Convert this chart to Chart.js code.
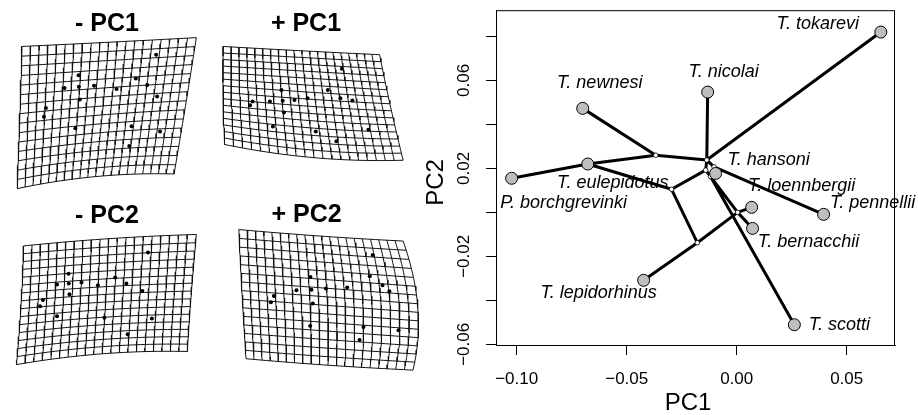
<!DOCTYPE html>
<html><head><meta charset="utf-8">
<script src="https://cdn.jsdelivr.net/npm/chart.js@4.4.1/dist/chart.umd.min.js"></script>
<style>
html,body{margin:0;padding:0;background:#fff;width:918px;height:415px;overflow:hidden}
#g{position:absolute;left:0;top:0}
#m{position:absolute;left:418px;top:0}
</style></head><body>
<canvas id="g" width="430" height="415"></canvas>
<canvas id="m" width="500" height="415"></canvas>
<script>
// ---------- phylomorphospace data ----------
const species = ['T. tokarevi','T. nicolai','T. newnesi','T. eulepidotus','P. borchgrevinki','T. hansoni','T. loennbergii','T. bernacchii','T. pennellii','T. lepidorhinus','T. scotti'];
const pc1 = [0.0655,-0.0132,-0.0700,-0.0677,-0.1023,-0.0096,0.0068,0.0072,0.0395,-0.0423,0.0262];
const pc2 = [0.0820,0.0547,0.0473,0.0220,0.0155,0.0177,0.0023,-0.0073,-0.0009,-0.0309,-0.0511];
const nodeNames = ['A','B','P','Q','H','C','D','E'];
const nodePC1 = [-0.0368,-0.0136,-0.0103,-0.0141,-0.0119,-0.0296,-0.0179,0.0004];
const nodePC2 = [0.0260,0.0238,0.0207,0.0192,0.0163,0.0105,-0.0138,0.0000];
const edgeFrom = ['P. borchgrevinki','T. eulepidotus','A','A','B','B','B','P','P','T. eulepidotus','C','Q','Q','H','H','Q','E','E','D','C','D'];
const edgeTo   = ['T. eulepidotus','A','T. newnesi','B','T. nicolai','T. tokarevi','P','T. pennellii','T. hansoni','C','Q','B','H','T. scotti','T. hansoni','E','T. bernacchii','T. loennbergii','E','D','T. lepidorhinus'];
const xTicks = [-0.10,-0.05,0.00,0.05];
const xTickLabels = ['\u22120.10','\u22120.05','0.00','0.05'];
const yTicks = [-0.06,-0.04,-0.02,0.00,0.02,0.04,0.06,0.08];
const yTickLabels = ['\u22120.06','','\u22120.02','','0.02','','0.06',''];
const xTitle = 'PC1', yTitle = 'PC2';

// ---------- deformation grid data (panel units) ----------
const gridTitles = ['- PC1','+ PC1','- PC2','+ PC2'];
// 3x3 control nets (row-major: top, middle, bottom)
const netMinusPC1 = [[18.3,43.3],[106.7,39],[196,34.3],[16,116.7],[100.5,108.5],[185,103.3],[13.3,188.3],[93.3,176],[173.3,173.3]];
const netPlusPC1  = [[223.3,43.3],[303.3,47.7],[382.7,51.7],[223.3,93.3],[309,100.5],[394,105.3],[225,143.3],[316,156.7],[406.7,159.3]];
const netMinusPC2 = [[20,246.7],[106.7,239.3],[196,235],[17.3,306.7],[103.7,300],[190.7,296.7],[12.7,367.7],[100,356.7],[186.7,354.3]];
const netPlusPC2  = [[239.3,230],[323.3,236.7],[406.7,241.7],[242.7,296.7],[329.5,303],[421.7,310],[246.7,361.7],[330,368.3],[416.7,373.3]];
const lmMinusPC1 = [[155,51.7],[76,72.7],[134.3,76],[61.7,85.7],[76.3,84.3],[91.7,83.3],[114.7,86.7],[146,82.7],[156,94.3],[77.3,97.3],[42.7,106],[40.7,115],[72.7,126.7],[130,124.7],[159,130],[127.7,144.7]];
const lmPlusPC1  = [[344.3,66],[282.7,87.7],[330,87.7],[253.3,99.3],[271,99.3],[284,98.7],[296,98],[309.3,96],[342.7,96],[355,98.3],[250.7,103.3],[285.3,110.7],[274,125],[317.7,130],[371.3,128.3],[338.7,140]];
const lmMinusPC2 = [[146.7,253.3],[65.7,275],[113.3,279],[54,286],[66,285],[79,284],[95.7,286.7],[124.7,285],[141,292.7],[66.7,296],[39.7,301.7],[36.7,308.3],[54,318.3],[102.3,320],[150.7,320.7],[126,336.7]];
const lmPlusPC2  = [[375.7,256],[312.3,278.3],[372.7,277.7],[298,292],[313.3,291.3],[328,290],[349.7,289],[385.7,286.7],[392.7,293],[275,297.7],[272,304],[314.7,305.3],[312,328.3],[366.3,329.3],[402,332.7],[362.3,342.7]];
const gridCols = 20, gridRows = 15;

// ---------- grid chart ----------
function lag(t){return [2*(t-0.5)*(t-1), -4*t*(t-1), 2*t*(t-0.5)];}
function warp(net,u,v){
  const a=lag(u), b=lag(v); let x=0,y=0;
  for(let r=0;r<3;r++)for(let c=0;c<3;c++){const w=b[r]*a[c]; x+=w*net[r*3+c][0]; y+=w*net[r*3+c][1];}
  return {x,y};
}
function gridLines(net){
  const pts=[];
  for(let i=0;i<=gridCols;i++){
    for(let k=0;k<=30;k++) pts.push(warp(net,i/gridCols,k/30));
    pts.push({x:null,y:null});
  }
  for(let j=0;j<=gridRows;j++){
    for(let k=0;k<=40;k++) pts.push(warp(net,k/40,j/gridRows));
    pts.push({x:null,y:null});
  }
  return pts;
}
const nets=[netMinusPC1,netPlusPC1,netMinusPC2,netPlusPC2];
const lms=[lmMinusPC1,lmPlusPC1,lmMinusPC2,lmPlusPC2];
const titlePos=[[105,20],[307.7,20],[105,216.5],[308.3,215]];
const gDatasets=[];
lms.forEach(l=>gDatasets.push({data:l.map(p=>({x:p[0],y:p[1]})),pointRadius:2,pointBackgroundColor:'#000',pointBorderWidth:0,showLine:false,order:0}));
nets.forEach(n=>gDatasets.push({data:gridLines(n),showLine:true,borderColor:'#111',borderWidth:1,pointRadius:0,spanGaps:false,tension:0,order:1}));
const gridTitlePlugin={id:'gt',afterDraw(c){
  const ctx=c.ctx,xs=c.scales.x,ys=c.scales.y;ctx.save();
  ctx.font='bold 25px "Liberation Sans", Arial, sans-serif';ctx.fillStyle='#000';ctx.textAlign='center';ctx.textBaseline='middle';
  gridTitles.forEach((t,i)=>ctx.fillText(t,xs.getPixelForValue(titlePos[i][0]),ys.getPixelForValue(titlePos[i][1])));
  ctx.restore();}};
new Chart(document.getElementById('g'),{type:'scatter',data:{datasets:gDatasets},
  options:{responsive:false,animation:false,events:[],layout:{padding:0},
    plugins:{legend:{display:false},tooltip:{enabled:false}},
    scales:{x:{type:'linear',min:0,max:430,display:false},y:{type:'linear',min:0,max:415,reverse:true,display:false}}},
  plugins:[gridTitlePlugin]});

// ---------- main chart ----------
const allNames=species.concat(nodeNames), allX=pc1.concat(nodePC1), allY=pc2.concat(nodePC2);
function pt(n){const i=allNames.indexOf(n);return {x:allX[i],y:allY[i]};}
const edgePts=[];
edgeFrom.forEach((f,i)=>{edgePts.push(pt(f),pt(edgeTo[i]),{x:null,y:null});});
const labelOffsets=[[-63,-8],[16,-20],[17,-25],[25,19],[52,25],[53,-13],[50,-21],[56,14],[49,-11],[-45,13],[45,0]];
const LF='"Liberation Sans", Arial, Helvetica, sans-serif';
const textPlugin={id:'txt',afterDraw(c){
  const ctx=c.ctx,xs=c.scales.x,ys=c.scales.y,a=c.chartArea;ctx.save();
  ctx.strokeStyle='#000';ctx.lineWidth=1;ctx.strokeRect(a.left+0.5,a.top+0.5,a.right-a.left-1,a.bottom-a.top);
  ctx.fillStyle='#000';ctx.textAlign='center';ctx.textBaseline='middle';
  ctx.font='italic 18px '+LF;
  species.forEach((s,i)=>ctx.fillText(s,xs.getPixelForValue(pc1[i])+labelOffsets[i][0],ys.getPixelForValue(pc2[i])+labelOffsets[i][1]));
  ctx.font='17px '+LF;
  xTicks.forEach((v,i)=>ctx.fillText(xTickLabels[i],xs.getPixelForValue(v),379));
  yTicks.forEach((v,i)=>{if(!yTickLabels[i])return;ctx.save();ctx.translate(46,ys.getPixelForValue(v));ctx.rotate(-Math.PI/2);ctx.fillText(yTickLabels[i],0,0);ctx.restore();});
  ctx.font='24px '+LF;
  ctx.fillText(xTitle,270,403);
  ctx.save();ctx.translate(18,182.5);ctx.rotate(-Math.PI/2);ctx.fillText(yTitle,0,0);ctx.restore();
  ctx.restore();}};
new Chart(document.getElementById('m'),{type:'scatter',
  data:{datasets:[
    {data:species.map((s,i)=>({x:pc1[i],y:pc2[i]})),pointRadius:6,pointBackgroundColor:'#bebebe',pointBorderColor:'#000',pointBorderWidth:1,showLine:false,order:0},
    {data:nodeNames.map((s,i)=>({x:nodePC1[i],y:nodePC2[i]})),pointRadius:2.3,pointBackgroundColor:'#fff',pointBorderColor:'#000',pointBorderWidth:0.8,showLine:false,order:1},
    {data:edgePts,showLine:true,borderColor:'#000',borderWidth:3,pointRadius:0,spanGaps:false,tension:0,order:2}
  ]},
  options:{responsive:false,animation:false,events:[],
    layout:{padding:{left:0,right:23,top:10,bottom:0}},
    plugins:{legend:{display:false},tooltip:{enabled:false}},
    scales:{
      x:{type:'linear',min:-0.10941,max:0.07195,afterBuildTicks:s=>{s.ticks=xTicks.map(v=>({value:v}));},afterFit:s=>{s.height=70;},
         grid:{display:true,drawOnChartArea:false,drawTicks:true,tickLength:10,tickColor:'#000',tickWidth:1,lineWidth:1},
         border:{display:true,color:'#000',width:1},ticks:{color:'rgba(0,0,0,0)'}},
      y:{type:'linear',min:-0.06032,max:0.09195,afterBuildTicks:s=>{s.ticks=yTicks.map(v=>({value:v}));},afterFit:s=>{s.width=78;},
         grid:{display:true,drawOnChartArea:false,drawTicks:true,tickLength:10,tickColor:'#000',tickWidth:1,lineWidth:1},
         border:{display:true,color:'#000',width:1},ticks:{color:'rgba(0,0,0,0)'}}
    }},
  plugins:[textPlugin]});
</script></body></html>
